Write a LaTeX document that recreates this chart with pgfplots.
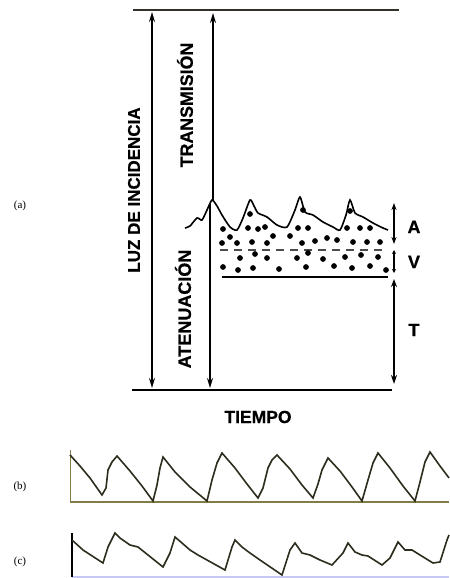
\documentclass[border=0pt]{standalone}
\usepackage{fontspec}
\setmainfont{Liberation Sans}
\newfontfamily\heavy[FakeBold=0.6]{Liberation Sans Bold}
\newfontfamily\serifr{Liberation Serif}
\usepackage{pgfplots}
\pgfplotsset{compat=1.18}
\usetikzlibrary{arrows.meta}
\definecolor{curvecol}{RGB}{45,45,30}
\definecolor{olivebase}{RGB}{130,125,70}
\definecolor{bluebase}{RGB}{200,200,245}
\begin{document}
\begin{tikzpicture}
\begin{axis}[
  width=449pt, height=578pt, scale only axis,
  xmin=0, xmax=449, ymin=0, ymax=578, y dir=reverse,
  hide axis, clip=false,
]
% frame lines of (a)
\addplot[line width=1.8pt, color=black!85!olive] coordinates {(133,10) (399,10)};
\addplot[line width=1.6pt, black] coordinates {(132,390) (392,390)};
% long arrows
\addplot[line width=1.5pt, black, {Stealth[length=10pt,width=6pt]}-{Stealth[length=10pt,width=6pt]}] coordinates {(152,12) (152,388)};
\addplot[line width=1.5pt, black, -{Stealth[length=10pt,width=6pt]}] coordinates {(213,200) (213,13)};
\addplot[line width=1.5pt, black, -{Stealth[length=10pt,width=6pt]}] coordinates {(210,204) (210,388)};
% wave (top of A)
\addplot[line width=1.6pt, black, smooth, tension=0.4] coordinates {
(185,228) (190,226) (197,218) (202,220) (207,210) (212,200) (217,206) (222,215) (230,227) (237,230) (243,218) (250,200) (254,206) (258,213) (267,217) (277,225) (287,227) (295,210) (300,197) (305,212) (313,215) (323,222) (333,227) (340,230) (346,215) (350,200) (355,213) (363,217) (373,223) (383,228) (388,230)};
% dots
\addplot[only marks, mark=*, mark size=2.6pt, black] coordinates {
(250,214) (303,210) (350,211)
(223,229) (248,228) (258,229) (265,227) (298,228) (308,228) (347,228) (360,228) (370,228)
(230,237) (222,243) (237,243) (252,242) (267,243) (273,236) (290,236) (302,243) (315,241) (327,238) (337,240) (353,242) (367,242) (380,242)
(240,258) (255,254) (267,258) (297,258) (308,253) (323,259) (345,257) (361,255) (378,257)
(223,267) (238,270) (253,268) (279,269) (306,267) (334,266) (352,268) (370,266) (386,270)};
% dashed line
\addplot[line width=1.3pt, black!70, dash pattern=on 8pt off 6pt] coordinates {(220,250) (386,250)};
% solid line bottom of V
\addplot[line width=1.6pt, black] coordinates {(222,277) (388,277)};
% right arrows A, V, T
\addplot[line width=1.5pt, black, {Stealth[length=7pt,width=5pt]}-{Stealth[length=7pt,width=5pt]}] coordinates {(394,203) (394,244)};
\addplot[line width=1.5pt, black, {Stealth[length=4pt,width=4pt]}-{Stealth[length=4pt,width=4pt]}] coordinates {(394,250) (394,273)};
\addplot[line width=1.5pt, black, {Stealth[length=8pt,width=6pt]}-{Stealth[length=9pt,width=6pt]}] coordinates {(394,279) (394,384)};
% texts of (a)
\node[rotate=90, font=\heavy\fontsize{17}{17}\selectfont] at (axis cs:134,190) {LUZ DE INCIDENCIA};
\node[rotate=90, font=\heavy\fontsize{17.8}{18}\selectfont] at (axis cs:185,105) {TRANSMISIÓN};
\node[rotate=90, font=\heavy\fontsize{18}{18}\selectfont] at (axis cs:183,309) {ATENUACIÓN};
\node[font=\heavy\fontsize{17.5}{18}\selectfont] at (axis cs:258,417) {TIEMPO};
\node[font=\heavy\fontsize{18}{18}\selectfont] at (axis cs:414,227) {A};
\node[font=\heavy\fontsize{18}{18}\selectfont] at (axis cs:414,262) {V};
\node[font=\heavy\fontsize{18}{18}\selectfont] at (axis cs:414,330) {T};
\node[font=\serifr\fontsize{11}{11}\selectfont] at (axis cs:20,206) {(a)};
\node[font=\serifr\fontsize{11}{11}\selectfont] at (axis cs:20,487) {(b)};
\node[font=\serifr\fontsize{11}{11}\selectfont] at (axis cs:20,562) {(c)};
% (b)
\addplot[line width=1.3pt, olivebase] coordinates {(70,502) (449,502)};
\addplot[line width=0.8pt, olivebase] coordinates {(70,450) (70,502)};
\addplot[line width=1.6pt, curvecol] coordinates {
(70,455) (80,466) (90,478) (102,495) (106,488) (108,470) (112,462) (117,456) (130,471) (142,486) (153,501) (157,485) (160,468) (163,457) (175,472) (190,487) (207,501) (212,480) (217,463) (222,453) (235,468) (247,484) (258,498) (263,488) (268,468) (272,460) (277,455) (290,469) (302,485) (313,498) (318,484) (322,470) (328,458) (340,471) (352,487) (362,501) (368,480) (373,463) (378,453) (390,468) (403,486) (415,501) (420,482) (425,462) (430,452) (440,466) (449,478)};
% (c)
\addplot[line width=1.3pt, bluebase] coordinates {(72,577) (449,577)};
\addplot[line width=1.1pt, black] coordinates {(72,533) (72,577)};
\addplot[line width=1.6pt, curvecol] coordinates {
(72,540) (83,550) (103,563) (108,547) (115,533) (120,538) (130,545) (138,547) (163,567) (170,553) (175,537) (182,543) (190,550) (198,555) (225,570) (232,547) (235,540) (242,547) (250,553) (260,560) (282,575) (290,550) (295,543) (302,553) (310,555) (320,560) (332,565) (343,553) (348,543) (355,552) (362,555) (368,556) (382,565) (390,558) (398,542) (405,550) (412,550) (420,555) (433,563) (440,562) (447,540) (449,535)};
\end{axis}
\path (0,0) rectangle (449pt,578pt);
\end{tikzpicture}
\end{document}
